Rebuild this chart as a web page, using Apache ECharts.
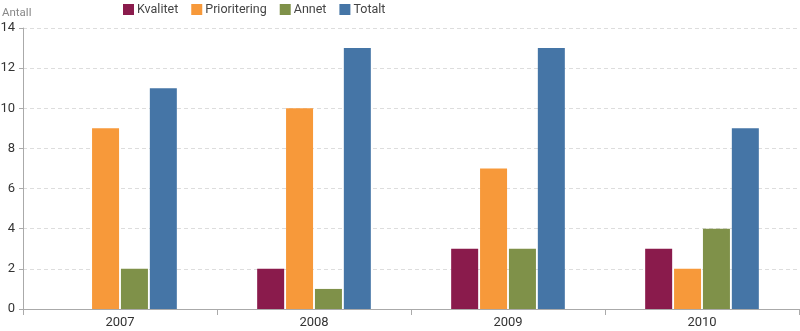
<!DOCTYPE html>
<html><head><meta charset="utf-8">
<script src="https://cdn.jsdelivr.net/npm/echarts@6/dist/echarts.min.js"></script>
<style>html,body{margin:0;padding:0;background:#fff}#c{width:800px;height:331px}</style>
</head><body><div id="c"></div>
<script>
const categories = ['2007', '2008', '2009', '2010'];
const kvalitet = [0, 2, 3, 3];
const prioritering = [9, 10, 7, 2];
const annet = [2, 1, 3, 4];
const totalt = [11, 13, 13, 9];
const seriesNames = ['Kvalitet', 'Prioritering', 'Annet', 'Totalt'];
const colors = ['#8A1B4C', '#F7993A', '#7F9149', '#4575A6'];

const chart = echarts.init(document.getElementById('c'), null, {renderer: 'canvas'});
const font = 'Roboto';
const data = [kvalitet, prioritering, annet, totalt];
chart.setOption({
  animation: false,
  textStyle: {fontFamily: font},
  legend: {
    left: 123, top: 3, padding: 0, itemWidth: 11, itemHeight: 11, itemGap: 13,
    icon: 'rect',
    textStyle: {fontFamily: font, fontSize: 12.5, color: '#444', padding: [0, 0, 0, -2]},
    data: seriesNames
  },
  grid: {left: 23, right: 1, top: 28, bottom: 22, containLabel: false, outerBoundsMode: 'none'},
  xAxis: {
    type: 'category', data: categories,
    axisLine: {lineStyle: {color: '#aaa', width: 1}},
    axisTick: {show: true, alignWithLabel: false, length: 6, lineStyle: {color: '#aaa'}, inside: false},
    axisLabel: {color: '#333', fontSize: 13, fontFamily: font, margin: 7}
  },
  yAxis: {
    type: 'value', min: 0, max: 14, interval: 2,
    name: 'Antall', nameLocation: 'end', nameGap: 9,
    nameTextStyle: {color: '#888', fontSize: 11.5, fontFamily: font, align: 'left', padding: [0, 0, 0, -21]},
    axisLine: {show: true, lineStyle: {color: '#aaa'}},
    axisTick: {show: true, length: 4, lineStyle: {color: '#aaa'}},
    axisLabel: {color: '#333', fontSize: 13, fontFamily: font, margin: 8},
    splitLine: {lineStyle: {color: '#ddd', type: [4, 3]}}
  },
  series: seriesNames.map((n, i) => ({
    name: n, type: 'bar', data: data[i],
    itemStyle: {color: colors[i]},
    barWidth: 27, barGap: '7%'
  }))
});
</script></body></html>
